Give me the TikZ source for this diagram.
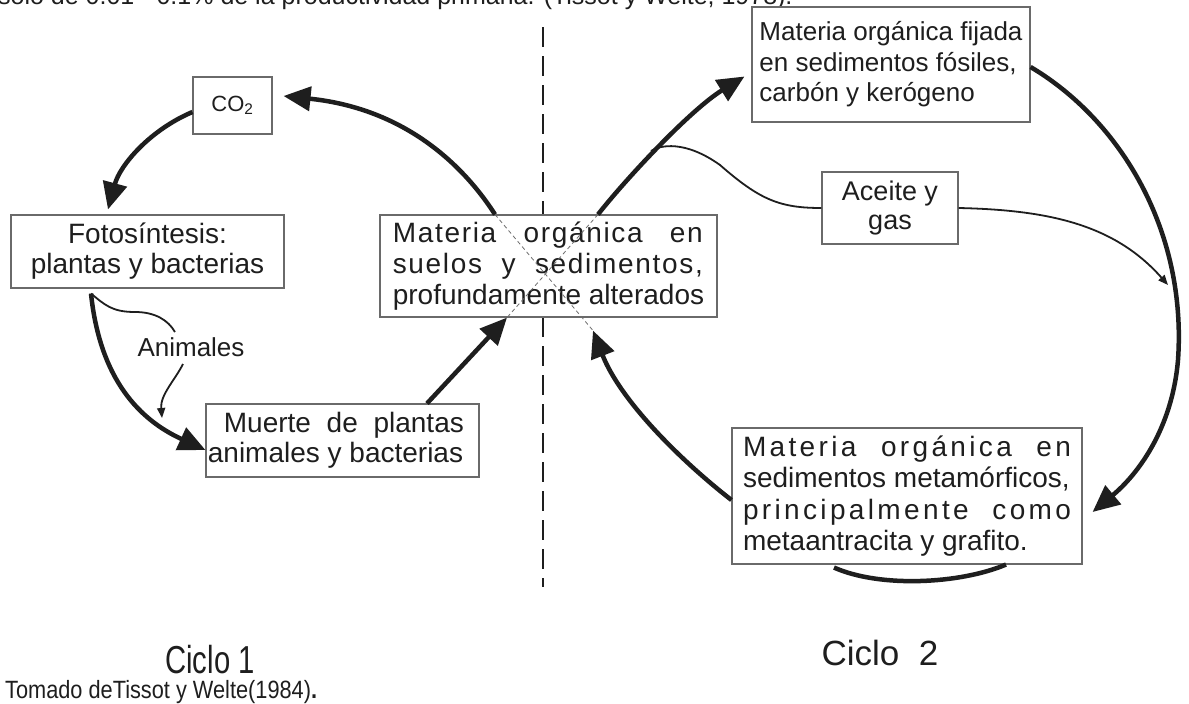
\documentclass[tikz,border=0pt]{standalone}
\usepackage{fontspec}
\setmainfont{Liberation Sans}
\newfontfamily\spacedA[LetterSpace=6]{Liberation Sans}
\newfontfamily\spacedB[LetterSpace=12]{Liberation Sans}
\usetikzlibrary{arrows.meta}
\definecolor{ink}{HTML}{1E1E1E}
\definecolor{boxline}{HTML}{6A6A6A}
\definecolor{dotline}{HTML}{6E6E6E}
\tikzset{
  box/.style={draw=boxline, line width=1.1pt, fill=white, inner sep=0pt, text=ink},
  big/.style={draw=ink, line width=4.5pt, -{Triangle[length=27pt,width=24pt]}},
  thin/.style={draw=ink, line width=1.8pt, -{Triangle[length=10pt,width=8pt]}},
  plainthick/.style={draw=ink, line width=4.5pt},
  xcross/.style={draw=dotline, line width=0.8pt, dash pattern=on 4pt off 3pt},
  divider/.style={draw=ink, line width=2pt, dash pattern=on 20pt off 9pt},
  lbl/.style={inner sep=0pt, text=ink}
}
\begin{document}
\begin{tikzpicture}[x=1pt,y=1pt]
\useasboundingbox (0,0) rectangle (1189,-704);
\clip (0,0) rectangle (1189,-704);
\fill[white] (0,0) rectangle (1189,-704);

% cut-off line of text at the top
\node[lbl, anchor=base west, font=\fontsize{25}{28}\selectfont] (toptext) at (-2,-5)
  {solo de 0.01 - 0.1\% de la productividad primaria. (Tissot y Welte, 1978).};

% dashed divider
\coordinate (divtop) at (543,-27);
\coordinate (divbot) at (543,-587);
\draw[divider] (divtop) -- (divbot);

% boxes
\node[box, minimum width=79pt, minimum height=57pt, font=\fontsize{22}{24}\selectfont] (co2) at (232.5,-105.5) {CO\textsubscript{2}};
\node[box, minimum width=273pt, minimum height=73pt, align=center, font=\fontsize{28}{30}\selectfont] (foto) at (147.5,-251.5)
  {Fotosíntesis:\\plantas y bacterias};
\node[box, minimum width=337pt, minimum height=102pt, align=left, font=\fontsize{28}{31}\selectfont] (ctr) at (548.5,-266)
  {\makebox[310pt][s]{\spacedA Materia orgánica en}\\\makebox[310pt][s]{\spacedA suelos y sedimentos,}\\profundamente alterados};
\node[box, minimum width=273pt, minimum height=73pt, align=left, font=\fontsize{28}{30}\selectfont] (mu) at (342.5,-440.5)
  {\hspace*{16pt}\makebox[240pt][s]{Muerte de plantas}\\animales y bacterias\hspace*{14pt}};
\node[box, minimum width=278pt, minimum height=115pt, align=left, font=\fontsize{26}{30.5}\selectfont] (tr) at (891,-64.5)
  {Materia orgánica fijada\\en sedimentos fósiles,\\carbón y kerógeno};
\node[box, minimum width=136pt, minimum height=72pt, align=center, font=\fontsize{27}{29}\selectfont] (ac) at (890,-208)
  {Aceite y\\gas};
\node[box, minimum width=350pt, minimum height=136pt, align=left, font=\fontsize{28}{31.5}\selectfont] (brx) at (907,-496)
  {\makebox[328pt][s]{\spacedB Materia orgánica en}\\sedimentos metamórficos,\\\makebox[328pt][s]{\spacedB principalmente como}\\metaantracita y grafito.};

% labels
\node[lbl, font=\fontsize{26}{28}\selectfont, anchor=base] (anim) at (191,-356) {Animales};
\node[lbl, anchor=base] (c1) at (210,-673) {\scalebox{0.75}[1]{\fontsize{39}{40}\selectfont Ciclo 1}};
\node[lbl, anchor=base, font=\fontsize{35}{38}\selectfont] (c2) at (880,-665) {Ciclo\ \ 2};
\node[lbl, anchor=base west] (src) at (5,-698) {\scalebox{0.87}[1]{\fontsize{25}{28}\selectfont Tomado deTissot y Welte(1984)\textbf{.}}};

% dotted cross inside the central box
\draw[xcross] ([xshift=-53.5pt]ctr.north) -- ([xshift=44.5pt,yshift=-13pt]ctr.south);
\draw[xcross] ([xshift=49.5pt]ctr.north) -- ([xshift=-41.5pt]ctr.south);

% ciclo 1
\draw[big] ([xshift=-53.5pt]ctr.north) .. controls (460,-160) and (400,-108) .. ([xshift=11pt,yshift=9.5pt]co2.east);
\draw[big] ([yshift=-6.5pt]co2.west) .. controls (150,-130) and (120,-165) .. ([xshift=-39.5pt,yshift=5pt]foto.north);
\draw[big] ([xshift=-56.5pt,yshift=-5pt]foto.south) .. controls (100,-380) and (140,-420) .. ([yshift=-9.5pt]mu.west);
\draw[draw=ink, line width=1.8pt] ([xshift=-56.5pt,yshift=-5pt]foto.south) .. controls (105,-305) and (112,-312) .. (135,-312)
   .. controls (155,-312) and (168,-320) .. ([xshift=-16pt,yshift=24pt]anim.base);
\draw[thin] ([xshift=-8pt,yshift=-8pt]anim.base) .. controls (175,-380) and (160,-395) .. (162,-418);
\draw[big] ([xshift=84.5pt]mu.north) -- ([xshift=-41.5pt]ctr.south);

% ciclo 2
\draw[big] ([xshift=49.5pt]ctr.north) .. controls (625,-180) and (690,-110) .. ([xshift=-7pt,yshift=-12pt]tr.west);
\coordinate (fork) at (651,-151);
\draw[draw=ink, line width=1.8pt] (fork) .. controls (660,-145) and (685,-140) .. (720,-165)
   .. controls (760,-200) and (780,-208) .. (ac.west);
\coordinate (acend) at (1168,-285);
\draw[thin] (ac.east) .. controls (1050,-210) and (1115,-225) .. (acend);
\draw[big] ([yshift=-2.5pt]tr.east) .. controls (1120,-120) and (1187,-230) .. (1178,-360)
   .. controls (1172,-430) and (1137,-475) .. ([xshift=10pt,yshift=-16pt]brx.east);
\draw[big] ([yshift=-4pt]brx.west) .. controls (680,-460) and (620,-400) .. ([xshift=44.5pt,yshift=-13pt]ctr.south);
\draw[plainthick] ([xshift=-73pt,yshift=-3pt]brx.south) .. controls (880,-588) and (960,-584) .. ([xshift=99pt]brx.south);
\end{tikzpicture}
\end{document}
